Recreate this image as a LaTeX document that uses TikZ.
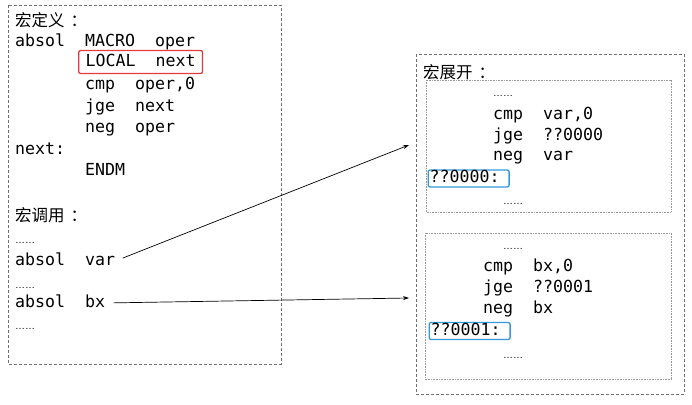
\documentclass[tikz,border=0pt]{standalone}
\usepackage{fontspec}
\usepackage{tikz}
\usetikzlibrary{arrows.meta}
\setmonofont{DejaVu Sans Mono}
\newfontfamily\cjkfont{Noto Sans CJK SC}
\newfontfamily\dotfont{Liberation Sans}
\definecolor{framegray}{HTML}{707070}
\definecolor{dotgray}{HTML}{9A9A9A}
\definecolor{localred}{HTML}{E5393B}
\definecolor{labelblue}{HTML}{3399DD}

\begin{document}
\begin{tikzpicture}[x=1pt,y=-1pt,
  code/.style={anchor=west, inner sep=0pt, text height=12pt, text depth=4pt, font=\ttfamily\fontsize{16.6}{20}\selectfont},
  head/.style={anchor=west, inner sep=0pt, font=\cjkfont\fontsize{16.5}{20}\selectfont},
  gap/.style={anchor=base west, inner sep=0pt, font=\dotfont\fontsize{10}{12}\selectfont},
  outerbox/.style={draw=framegray, line width=0.8pt, dash pattern=on 3pt off 2pt},
  innerbox/.style={draw=dotgray, line width=0.8pt, dash pattern=on 0.8pt off 0.8pt},
  localbox/.style={code, draw=localred, line width=1.3pt, rounded corners=2pt, inner xsep=7pt, inner ysep=3.5pt},
  labelbox/.style={code, draw=labelblue, line width=1.3pt, rounded corners=2pt, inner xsep=1.5pt, inner ysep=0.5pt},
  callarrow/.style={-{Stealth[length=6pt,width=4pt]}, line width=0.7pt, shorten <=8pt}]
  \useasboundingbox (0,0) rectangle (692,404);

  \draw[outerbox] (8,5) rectangle (281,364);
  \node[head] (defhead) at (15,20) {宏定义\kern6pt：};
  \node[code] (defl1) at (15,42) {absol\ \ MACRO\ \ oper};
  \node[localbox] (defl2) at (78,62) {LOCAL\ \ next};
  \node[code] (defl3) at (85,85) {cmp\ \ oper,0};
  \node[code] (defl4) at (85,107) {jge\ \ next};
  \node[code] (defl5) at (85,128) {neg\ \ oper};
  \node[code] (defl6) at (15,150) {next:};
  \node[code] (defl7) at (85,171) {ENDM};

  \node[head] (callhead) at (15,215) {宏调用\kern6pt：};
  \node[gap] (calldots1) at (15,243) {……};
  \node[code] (callvar) at (15,261) {absol\ \ var};
  \node[gap] (calldots2) at (15,288) {……};
  \node[code] (callbx) at (15,303) {absol\ \ bx};
  \node[gap] (calldots3) at (15,329.5) {……};

  \draw[outerbox] (416,54) rectangle (684,394);
  \node[head] (exphead) at (423,72) {宏展开\kern6pt：};

  \draw[innerbox] (426,80) rectangle (671,212);
  \node[gap] (expAdots1) at (493,96.5) {……};
  \node[code] (expAl1) at (493,115) {cmp\ \ var,0};
  \node[code] (expAl2) at (493,136) {jge\ \ ??0000};
  \node[code] (expAl3) at (493,156) {neg\ \ var};
  \node[labelbox] (expAlabel) at (427.5,178.5) {??0000:\hspace*{8pt}};
  \node[gap] (expAdots2) at (503,204.5) {……};

  \draw[innerbox] (425,233) rectangle (671,379);
  \node[gap] (expBdots1) at (503,249.5) {……};
  \node[code] (expBl1) at (483,267) {cmp\ \ bx,0};
  \node[code] (expBl2) at (483,288) {jge\ \ ??0001};
  \node[code] (expBl3) at (483,309) {neg\ \ bx};
  \node[labelbox] (expBlabel) at (428.5,331) {??0001:\hspace*{8pt}};
  \node[gap] (expBdots2) at (503,358.5) {……};

  \coordinate (expA) at (409,145);
  \coordinate (expB) at (409,298);
  \draw[callarrow] (callvar.east) -- (expA);
  \draw[callarrow] (callbx.east) -- (expB);
\end{tikzpicture}
\end{document}
